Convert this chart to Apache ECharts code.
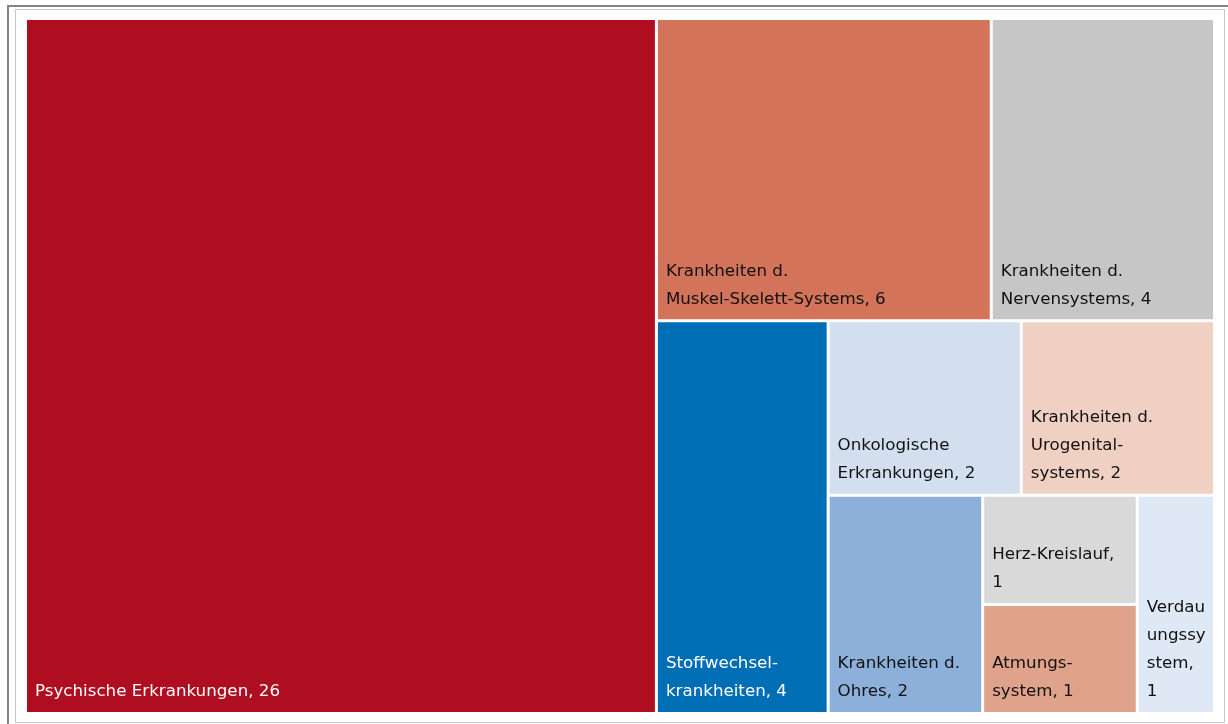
<!DOCTYPE html>
<html>
<head>
<meta charset="utf-8">
<script src="https://cdn.jsdelivr.net/npm/echarts@6/dist/echarts.min.js"></script>
<style>
  html, body { margin: 0; padding: 0; background: #fff; }
  .shadow {
    position: absolute; left: 7px; top: 5px; width: 1221px; height: 719px;
    border-top: 2px solid #858585; border-left: 2px solid #858585;
  }
  .frame {
    position: absolute; left: 15px; top: 9px; width: 1208px; height: 712px;
    border: 1px solid #c8c8c8;
  }
  #chart { position: absolute; left: 0; top: 0; width: 1228px; height: 724px; }
</style>
</head>
<body>
<div class="shadow"></div>
<div class="frame"></div>
<div id="chart"></div>
<script>
// names with the line breaks used in the labels
const names = [
  'Psychische Erkrankungen',
  'Krankheiten d.\nMuskel-Skelett-Systems',
  'Krankheiten d.\nNervensystems',
  'Stoffwechsel-\nkrankheiten',
  'Onkologische\nErkrankungen',
  'Krankheiten d.\nUrogenital-\nsystems',
  'Krankheiten d.\nOhres',
  'Herz-Kreislauf,\n',
  'Atmungs-\nsystem',
  'Verdau\nungssy\nstem,\n'
]
const values = [26, 6, 4, 4, 2, 2, 2, 1, 1, 1]
const colors = ['#af0e20', '#d3735a', '#c6c6c6', '#006eb5', '#d3dfef', '#f0d0c2', '#8cb0da', '#d9d9d9', '#e0a28a', '#dfe8f5']
const textColors = ['#fff', '#111', '#111', '#fff', '#111', '#111', '#111', '#111', '#111', '#111']

const leaf = i => ({
  name: names[i],
  value: values[i],
  itemStyle: { color: colors[i] },
  label: { color: textColors[i] }
})

// grouping so the squarified layout follows the original arrangement
const data = [
  leaf(0),
  leaf(1),
  leaf(2),
  {
    name: '',
    children: [
      leaf(3),
      { name: '', children: [4, 5, 6, 7, 8, 9].map(leaf) }
    ]
  }
]

var myChart = echarts.init(document.getElementById('chart'))
myChart.setOption({
  animation: false,
  series: [
    {
      type: 'treemap',
      left: 27,
      top: 20,
      width: 1186,
      height: 692,
      roam: false,
      nodeClick: false,
      sort: false,
      squareRatio: 1,
      breadcrumb: { show: false },
      itemStyle: { borderWidth: 0, gapWidth: 3, borderColor: '#fff' },
      label: {
        show: true,
        position: 'insideBottomLeft',
        distance: 3,
        offset: [0, 2],
        fontFamily: 'DejaVu Sans',
        fontSize: 16.7,
        lineHeight: 28,
        overflow: 'none',
        formatter: function (p) {
          const sep = p.name.endsWith('\n') ? '' : ', '
          return p.name + sep + p.value
        }
      },
      data: data
    }
  ]
})
</script>
</body>
</html>
